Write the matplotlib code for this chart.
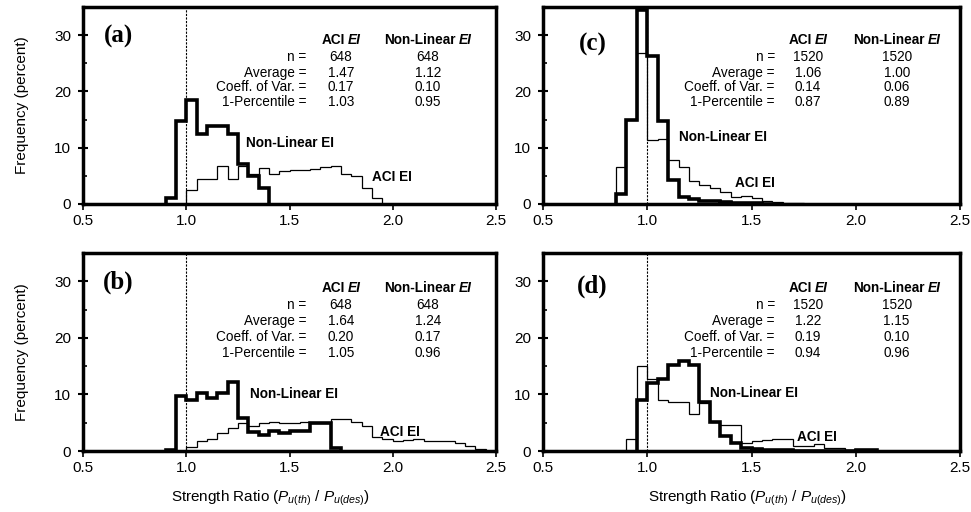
import numpy as np
import matplotlib
matplotlib.use("Agg")
import matplotlib.pyplot as plt
from matplotlib.offsetbox import TextArea, HPacker, AnnotationBbox
from matplotlib.ticker import MultipleLocator

plt.rcParams['font.family'] = ['Liberation Sans', 'DejaVu Sans']
plt.rcParams['mathtext.fontset'] = 'custom'
plt.rcParams['mathtext.rm'] = 'Liberation Sans'
plt.rcParams['mathtext.it'] = 'Liberation Sans:italic'

BIN_W = 0.05

# ---- data (frequency in percent per 0.05-wide bin) ----
a_nl_start = 0.90
a_nl = [1.0, 14.7, 18.4, 12.5, 13.8, 13.8, 12.5, 7.1, 5.0, 2.9]
a_aci_start = 1.00
a_aci = [2.4, 4.4, 4.4, 6.8, 4.4, 6.8, 5.3, 6.4, 5.3, 5.9, 6.0, 6.1, 6.3, 6.5,
         6.7, 5.3, 5.0, 2.8, 1.1]

b_nl_start = 0.90
b_nl = [0.2, 9.7, 9.0, 10.2, 9.3, 10.2, 12.2, 5.8, 3.4, 2.8, 3.5, 3.1, 3.5,
        3.5, 4.9, 4.9, 0.5]
b_aci_start = 1.00
b_aci = [0.65, 1.8, 2.2, 3.2, 4.1, 4.9, 4.5, 5.0, 5.2, 5.0, 5.0, 5.2, 4.9, 4.9,
         5.6, 5.7, 5.2, 4.4, 2.5, 2.1, 1.8, 2.0, 2.1, 1.7, 1.8, 1.8, 1.5, 0.8, 0.3]

c_nl_start = 0.85
c_nl = [1.8, 15.0, 34.5, 26.2, 14.7, 4.2, 1.2, 0.8, 0.6, 0.5, 0.35, 0.25, 0.2,
        0.1, 0.05]
c_aci_start = 0.85
c_aci = [6.5, 15.0, 26.8, 11.3, 11.5, 7.8, 6.5, 4.1, 3.4, 2.9, 2.2, 1.3, 1.5,
         1.0, 0.6, 0.3, 0.2, 0.1]

d_nl_start = 0.95
d_nl = [9.1, 12.0, 12.8, 15.2, 15.9, 15.2, 8.7, 5.2, 2.65, 1.35, 0.5, 0.3, 0.2,
        0.15, 0.1, 0.05, 0.05, 0.05, 0.05, 0.05, 0.05, 0.15, 0.15]
d_aci_start = 0.90
d_aci = [2.2, 15.0, 12.7, 9.0, 8.7, 8.7, 6.5, 8.5, 5.2, 4.6, 4.6, 1.5, 1.8, 2.0,
         2.1, 2.1, 0.8, 0.8, 1.2, 0.6, 0.5]

panel_labels = ['(a)', '(b)', '(c)', '(d)']
stat_names = ['n =', 'Average =', 'Coeff. of Var. =', '1-Percentile =']
stats_aci = [['648', '1.47', '0.17', '1.03'],
             ['648', '1.64', '0.20', '1.05'],
             ['1520', '1.06', '0.14', '0.87'],
             ['1520', '1.22', '0.19', '0.94']]
stats_nl = [['648', '1.12', '0.10', '0.95'],
            ['648', '1.24', '0.17', '0.96'],
            ['1520', '1.00', '0.06', '0.89'],
            ['1520', '1.15', '0.10', '0.96']]

x_ticks = [0.5, 1.0, 1.5, 2.0, 2.5]
y_ticks = [0, 10, 20, 30]

# label positions (data coords) of the curve labels
nl_label_xy = [(1.29, 10.8), (1.31, 10.1), (1.15, 11.9), (1.30, 10.2)]
aci_label_xy = [(1.90, 4.8), (1.94, 3.4), (1.42, 3.7), (1.72, 2.4)]

panels = [
    (a_nl_start, a_nl, a_aci_start, a_aci),
    (b_nl_start, b_nl, b_aci_start, b_aci),
    (c_nl_start, c_nl, c_aci_start, c_aci),
    (d_nl_start, d_nl, d_aci_start, d_aci),
]

fig = plt.figure(figsize=(9.71, 5.12), dpi=100)
positions = [
    [0.0855, 0.6016, 0.4253, 0.3848],  # a
    [0.0855, 0.1191, 0.4253, 0.3867],  # b
    [0.5592, 0.6016, 0.4295, 0.3848],  # c
    [0.5592, 0.1191, 0.4295, 0.3867],  # d
]
label_pos = [(0.085, 0.85), (0.085, 0.85), (0.12, 0.81), (0.118, 0.83)]
header_y = [0.832, 0.822, 0.832, 0.822]
row_ys = [[0.745, 0.667, 0.592, 0.519], [0.737, 0.657, 0.577, 0.496],
          [0.745, 0.667, 0.592, 0.519], [0.737, 0.657, 0.577, 0.496]]
col_x = [(0.54, 0.625, 0.835), (0.54, 0.625, 0.835),
         (0.556, 0.635, 0.848), (0.556, 0.635, 0.848)]

FS = 9.8


def edges(start, vals):
    return start + BIN_W * np.arange(len(vals) + 1)


for i, (pos, (nls, nl, acs, ac)) in enumerate(zip(positions, panels)):
    ax = fig.add_axes(pos)
    ax.stairs(ac, edges(acs, ac), baseline=0, color='black', lw=0.9, zorder=3)
    ax.stairs(nl, edges(nls, nl), baseline=0, color='black', lw=2.6, zorder=4)
    ax.axvline(1.0, color='black', lw=0.8, ls=(0, (2, 1.2)), zorder=2)

    ax.set_xlim(0.5, 2.5)
    ax.set_ylim(0, 35)
    ax.set_xticks(x_ticks)
    ax.set_xticklabels([f'{v:.1f}' for v in x_ticks])
    ax.set_yticks(y_ticks)
    ax.yaxis.set_minor_locator(MultipleLocator(5))
    ax.tick_params(axis='x', direction='out', length=4, width=1.2,
                   labelsize=11, pad=3)
    ax.tick_params(axis='y', which='major', direction='inout', length=7,
                   width=1.5, labelsize=11, pad=5)
    ax.tick_params(axis='y', which='minor', direction='in', length=3,
                   width=1.2)
    for s in ax.spines.values():
        s.set_linewidth(2.5)

    ax.text(*label_pos[i], panel_labels[i], transform=ax.transAxes,
            family=['Liberation Serif'], weight='bold', fontsize=18,
            ha='center', va='center')

    lx, ax_c, nl_c = col_x[i]
    for hx, name in [(ax_c, 'ACI'), (nl_c, 'Non-Linear')]:
        box = HPacker(children=[
            TextArea(name, textprops=dict(weight='bold', fontsize=FS)),
            TextArea('EI', textprops=dict(weight='bold', style='italic',
                                          fontsize=FS))],
            pad=0, sep=2, align='baseline')
        ab = AnnotationBbox(box, (hx, header_y[i]), xycoords='axes fraction',
                            frameon=False, box_alignment=(0.5, 0.5))
        ax.add_artist(ab)
    for r, name in enumerate(stat_names):
        y = row_ys[i][r]
        ax.text(lx, y, name, transform=ax.transAxes, ha='right', va='center',
                fontsize=FS)
        ax.text(ax_c, y, stats_aci[i][r], transform=ax.transAxes,
                ha='center', va='center', fontsize=FS)
        ax.text(nl_c, y, stats_nl[i][r], transform=ax.transAxes,
                ha='center', va='center', fontsize=FS)

    ax.text(*nl_label_xy[i], 'Non-Linear EI', weight='bold', fontsize=9.8,
            ha='left', va='center')
    ax.text(*aci_label_xy[i], 'ACI EI', weight='bold', fontsize=9.8,
            ha='left', va='center')

    if i in (0, 1):
        ax.set_ylabel('Frequency (percent)', fontsize=11)
        ax.yaxis.set_label_coords(-0.132, 0.5)
    if i in (1, 3):
        ax.set_xlabel(r'Strength Ratio ($P_{u(th)}$ / $P_{u(des)}$)',
                      fontsize=11)
        ax.xaxis.set_label_coords(0.455 if i == 1 else 0.49, -0.19)

fig.savefig('out.png', dpi=100)
